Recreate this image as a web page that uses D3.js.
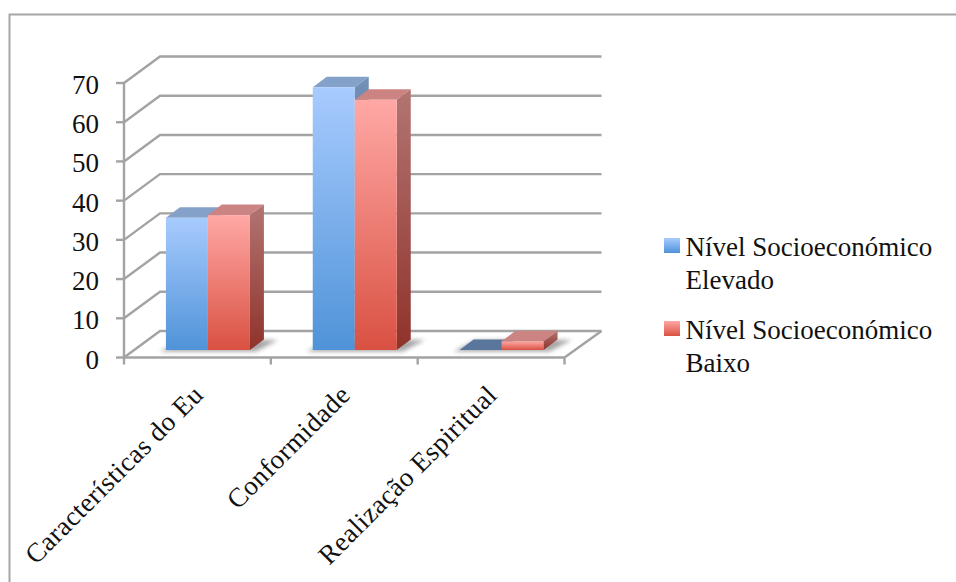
<!DOCTYPE html>
<html>
<head>
<meta charset="utf-8">
<script src="https://cdn.jsdelivr.net/npm/d3@7"></script>
<style>
html,body{margin:0;padding:0;background:#fff}
svg{display:block}
text{font-family:"Liberation Serif",serif;fill:#111}
</style>
</head>
<body>
<script>
const categories = ["Características do Eu", "Conformidade", "Realização Espiritual"];
const seriesNames = [["Nível Socioeconómico", "Elevado"], ["Nível Socioeconómico", "Baixo"]];
const elevado = [33.7, 67.0, 0];
const baixo = [34.4, 63.8, 2.2];
const yTicks = [0, 10, 20, 30, 40, 50, 60, 70];

const W = 956, H = 582;
const svg = d3.select("body").append("svg").attr("width", W).attr("height", H);
const defs = svg.append("defs");

function vGrad(id, top, bottom) {
  const g = defs.append("linearGradient").attr("id", id).attr("x1", 0).attr("y1", 0).attr("x2", 0).attr("y2", 1);
  g.append("stop").attr("offset", "0%").attr("stop-color", top);
  g.append("stop").attr("offset", "100%").attr("stop-color", bottom);
}
const palette = [
  {front: "gradBlue", top: "#84a2c9", side: "gradBlueSide", flat: "#5a769c"},
  {front: "gradRed", top: "#cb8481", side: "gradRedSide", flat: "#cb8481"}
];
vGrad("gradBlue", "#a8cbfe", "#4f93d8");
vGrad("gradRed", "#ffa8a5", "#d95142");
vGrad("gradBlueSide", "#7390b6", "#3a6ea5");
vGrad("gradRedSide", "#b27572", "#90322b");
defs.append("filter").attr("id", "soft").attr("x", "-30%").attr("y", "-100%").attr("width", "160%").attr("height", "300%")
  .append("feGaussianBlur").attr("stdDeviation", 2.2);

// Oblique projection: wall sits behind the front plane by (depthX, -depthY)
const depthX = 36, depthY = 26.5;
const x = d3.scaleBand().domain(categories).range([124, 564.5]);
const y = d3.scaleLinear().domain([0, 70]).range([357.5, 83]);

// Chart frame runs past the right and bottom page edges
svg.append("rect").attr("x", 9.5).attr("y", 14.5).attr("width", 960).attr("height", 590)
  .attr("fill", "#fff").attr("stroke", "#a6a6a6").attr("stroke-width", 2);

const axisColor = "#a3a3a3";
const grid = svg.append("g").attr("fill", "none").attr("stroke", axisColor).attr("stroke-width", 2.4);
const wall = d3.line();
yTicks.forEach(v => {
  grid.append("path").attr("d", wall([
    [x.range()[0], y(v)],
    [x.range()[0] + depthX, y(v) - depthY],
    [x.range()[1] + depthX + 1, y(v) - depthY]
  ]));
});
// Floor edges, left wall edge and tick marks
grid.append("path").attr("d", wall([
  [x.range()[1] + depthX + 1, y(0) - depthY],
  [x.range()[1], y(0)],
  [x.range()[0], y(0)]
]));
grid.append("path").attr("d", wall([[x.range()[0], y(0)], [x.range()[0], y(70)]]));
yTicks.forEach(v => {
  grid.append("path").attr("d", wall([[x.range()[0] - 8, y(v)], [x.range()[0], y(v)]]));
});
[...categories.map(c => x(c)), x.range()[1]].forEach(px => {
  grid.append("path").attr("d", wall([[px, y(0)], [px, y(0) + 7]]));
});

// Bars stand a little inside the floor
const barW = 42, inY = 7.5, barDX = 14, barDY = 10.5;
const barLeft = c => x(c) + x.bandwidth() / 2 + 10.5 - barW;
const barsG = svg.append("g");
const para = (x0, y0, w, dx, dy) => wall([[x0, y0], [x0 + w, y0], [x0 + w + dx, y0 - dy], [x0 + dx, y0 - dy]]) + "Z";

// Ground shadows
categories.forEach(c => {
  const left = barLeft(c), base = y(0) - inY;
  barsG.append("path").attr("d", para(left - 6, base + 1.5, barW * 2 + 12, barDX + 8, barDY + 1))
    .attr("fill", "#777").attr("opacity", 0.65).attr("filter", "url(#soft)");
});

[elevado, baixo].forEach((vals, s) => {
  const p = palette[s];
  categories.forEach((c, i) => {
    const v = vals[i];
    const left = barLeft(c) + s * barW;
    const base = y(0) - inY, top = base - (y(0) - y(v));
    const g = barsG.append("g");
    g.append("path").attr("d", para(left, top, barW, barDX, barDY)).attr("fill", v > 0 ? p.top : p.flat);
    if (v > 0) {
      g.append("path").attr("d", wall([[left + barW, base], [left + barW + barDX, base - barDY],
        [left + barW + barDX, top - barDY], [left + barW, top]]) + "Z").attr("fill", `url(#${p.side})`);
      g.append("rect").attr("x", left).attr("y", top).attr("width", barW).attr("height", base - top)
        .attr("fill", `url(#${p.front})`);
    }
  });
});

// Value axis labels
svg.append("g").selectAll("text").data(yTicks).join("text")
  .attr("x", 99).attr("y", d => y(d) + 11).attr("text-anchor", "end")
  .attr("font-size", 27).text(d => d);

// Category labels, rotated and anchored at their end
svg.append("g").selectAll("text").data(categories).join("text")
  .attr("text-anchor", "end").attr("font-size", 27).attr("letter-spacing", 0.45)
  .attr("transform", c => `translate(${x(c) + x.bandwidth() / 2 + 7.5},${y(0) + 39}) rotate(-45)`)
  .text(c => c);

// Legend
const legendY = [238, 321];
seriesNames.forEach((lines, i) => {
  svg.append("rect").attr("x", 664).attr("y", legendY[i]).attr("width", 16).attr("height", 15)
    .attr("fill", `url(#${palette[i].front})`);
  lines.forEach((t, j) => {
    svg.append("text").attr("x", 685.5).attr("y", legendY[i] + 18 + j * 33)
      .attr("font-size", 27).text(t);
  });
});
</script>
</body>
</html>
